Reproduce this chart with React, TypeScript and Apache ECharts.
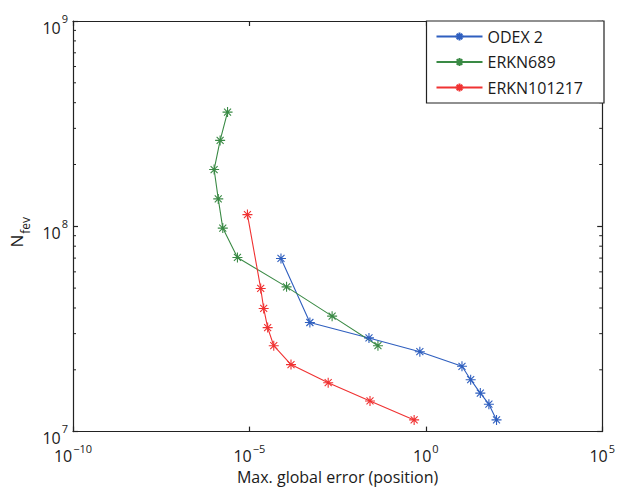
import React, { useEffect, useRef } from "react";
import * as echarts from "echarts";

const FONT = "'Open Sans', 'DejaVu Sans', sans-serif";
const TEXT = "#1a1a1a";

const seriesNames = ["ODEX 2", "ERKN689", "ERKN101217"];
const seriesColors = ["#2f5fbf", "#3a8a45", "#f03232"];

const odexErr = [7.85e-5, 5.18e-4, 0.0245, 0.678, 10.6, 18.7, 35.1, 61.4, 101];
const odexNfev = [6.97e7, 3.4e7, 2.86e7, 2.45e7, 2.08e7, 1.79e7, 1.54e7, 1.36e7, 1.14e7];

const erkn689Err = [2.4e-6, 1.48e-6, 1.0e-6, 1.31e-6, 1.76e-6, 4.58e-6, 1.13e-4, 2.21e-3, 0.044];
const erkn689Nfev = [3.6e8, 2.62e8, 1.89e8, 1.36e8, 9.8e7, 7.05e7, 5.07e7, 3.65e7, 2.62e7];

const erkn101217Err = [8.8e-6, 2.09e-5, 2.54e-5, 3.29e-5, 4.9e-5, 1.51e-4, 1.71e-3, 0.0262, 0.467];
const erkn101217Nfev = [1.14e8, 4.98e7, 3.98e7, 3.21e7, 2.62e7, 2.12e7, 1.73e7, 1.41e7, 1.14e7];

const yMinorTicks = [2e7, 3e7, 4e7, 5e7, 6e7, 7e7, 8e7, 9e7, 2e8, 3e8, 4e8, 5e8, 6e8, 7e8, 8e8, 9e8];

const xMin = 1e-10;
const xMax = 1e5;
const yMin = 1e7;
const yMax = 1e9;

const ASTERISK = "path://M5 0L5 10M0 5L10 5M1.5 1.5L8.5 8.5M1.5 8.5L8.5 1.5";

function expLabel(v: number) {
  const e = Math.round(Math.log10(v));
  const s = e < 0 ? "\u2212" + -e : String(e);
  return `{b|10}{s|${s}}`;
}

export default function App() {
  const ref = useRef<HTMLDivElement>(null);
  useEffect(() => {
    if (!ref.current) return;
    const chart = echarts.init(ref.current, undefined, { renderer: "svg" });

    const allData = [
      odexErr.map((x, i) => [x, odexNfev[i]]),
      erkn689Err.map((x, i) => [x, erkn689Nfev[i]]),
      erkn101217Err.map((x, i) => [x, erkn101217Nfev[i]]),
    ];

    const xRich = {
      b: { fontSize: 16, fontFamily: FONT, color: TEXT, padding: [5.5, 0, 0, 0] },
      s: { fontSize: 11, fontFamily: FONT, color: TEXT, padding: [0, 0, 10.5, 1] },
    };
    const yRich = {
      b: { fontSize: 16, fontFamily: FONT, color: TEXT, padding: [13, 0, 0, 0] },
      s: { fontSize: 11, fontFamily: FONT, color: TEXT, padding: [6, 0, 12, 1] },
    };

    const axisLineStyle = { color: "#222", width: 1.2 };

    const option: any = {
      animation: false,
      backgroundColor: "#fff",
      textStyle: { fontFamily: FONT },
      grid: { left: 73, right: 14, top: 21, bottom: 49.5, containLabel: false },
      legend: {
        data: seriesNames,
        orient: "vertical",
        right: 14,
        top: 21,
        itemWidth: 46,
        itemHeight: 10,
        itemGap: 5.5,
        padding: [5.5, 21, 5.5, 9],
        backgroundColor: "#fff",
        borderColor: "#222",
        borderWidth: 1.2,
        borderRadius: 0,
        selectedMode: false,
        textStyle: { fontSize: 16, fontFamily: FONT, color: TEXT, lineHeight: 20, padding: [0, 0, 0, 0] },
      },
      xAxis: [
        {
          type: "log",
          logBase: 100000,
          min: xMin,
          max: xMax,
          position: "bottom",
          name: "Max. global error (position)",
          nameLocation: "middle",
          nameGap: 31,
          nameTextStyle: { fontSize: 16, fontFamily: FONT, color: TEXT },
          axisLine: { show: true, lineStyle: axisLineStyle },
          axisTick: { show: true, inside: true, length: 5, lineStyle: axisLineStyle },
          axisLabel: { margin: 11, formatter: expLabel, rich: xRich, color: TEXT },
          splitLine: { show: false },
          minorTick: { show: false },
        },
        {
          type: "log",
          logBase: 100000,
          min: xMin,
          max: xMax,
          position: "top",
          axisLine: { show: true, lineStyle: axisLineStyle },
          axisTick: { show: true, inside: true, length: 5, lineStyle: axisLineStyle },
          axisLabel: { show: false },
          splitLine: { show: false },
        },
      ],
      yAxis: [
        {
          type: "log",
          logBase: 10,
          min: yMin,
          max: yMax,
          position: "left",
          name: "{n|N}{f|fev}",
          nameLocation: "middle",
          nameGap: 40,
          nameRotate: 90,
          nameTextStyle: {
            rich: {
              n: { fontSize: 17, fontFamily: FONT, color: TEXT, padding: [0, 0, 8, 0] },
              f: { fontSize: 12, fontFamily: FONT, color: TEXT, padding: [10, 12, 0, 1] },
            },
          },
          axisLine: { show: true, lineStyle: axisLineStyle },
          axisTick: { show: true, inside: true, length: 5, lineStyle: axisLineStyle },
          axisLabel: { margin: 5, formatter: expLabel, rich: yRich, color: TEXT },
          splitLine: { show: false },
        },
        {
          type: "log",
          logBase: 10,
          min: yMin,
          max: yMax,
          position: "right",
          axisLine: { show: true, lineStyle: axisLineStyle },
          axisTick: { show: true, inside: true, length: 5, lineStyle: axisLineStyle },
          axisLabel: { show: false },
          splitLine: { show: false },
        },
      ],
      series: [
        {
          type: "custom",
          xAxisIndex: 0,
          yAxisIndex: 0,
          silent: true,
          z: 1,
          data: yMinorTicks.map((v) => [1, v]),
          renderItem: (params: any, api: any) => {
            const y = api.coord([1, api.value(1)])[1];
            const cs = params.coordSys;
            return {
              type: "group",
              children: [
                {
                  type: "line",
                  shape: { x1: cs.x, y1: y, x2: cs.x + 3, y2: y },
                  style: { stroke: "#222", lineWidth: 1 },
                },
                {
                  type: "line",
                  shape: { x1: cs.x + cs.width - 3, y1: y, x2: cs.x + cs.width, y2: y },
                  style: { stroke: "#222", lineWidth: 1 },
                },
              ],
            };
          },
        },
        ...seriesNames.map((name, i) => ({
          name,
          type: "line",
          xAxisIndex: 0,
          yAxisIndex: 0,
          data: allData[i],
          color: seriesColors[i],
          symbol: ASTERISK,
          symbolSize: 10,
          showAllSymbol: true,
          lineStyle: { color: seriesColors[i], width: 1.1 },
          itemStyle: { color: seriesColors[i], borderColor: seriesColors[i], borderWidth: 1.1 },
          emphasis: { disabled: true },
          z: 3,
        })),
      ],
    };

    chart.setOption(option);
    return () => chart.dispose();
  }, []);

  return (
    <div
      ref={ref}
      style={{ position: "fixed", left: 0, top: 0, width: 618, height: 490, background: "#fff" }}
    />
  );
}
